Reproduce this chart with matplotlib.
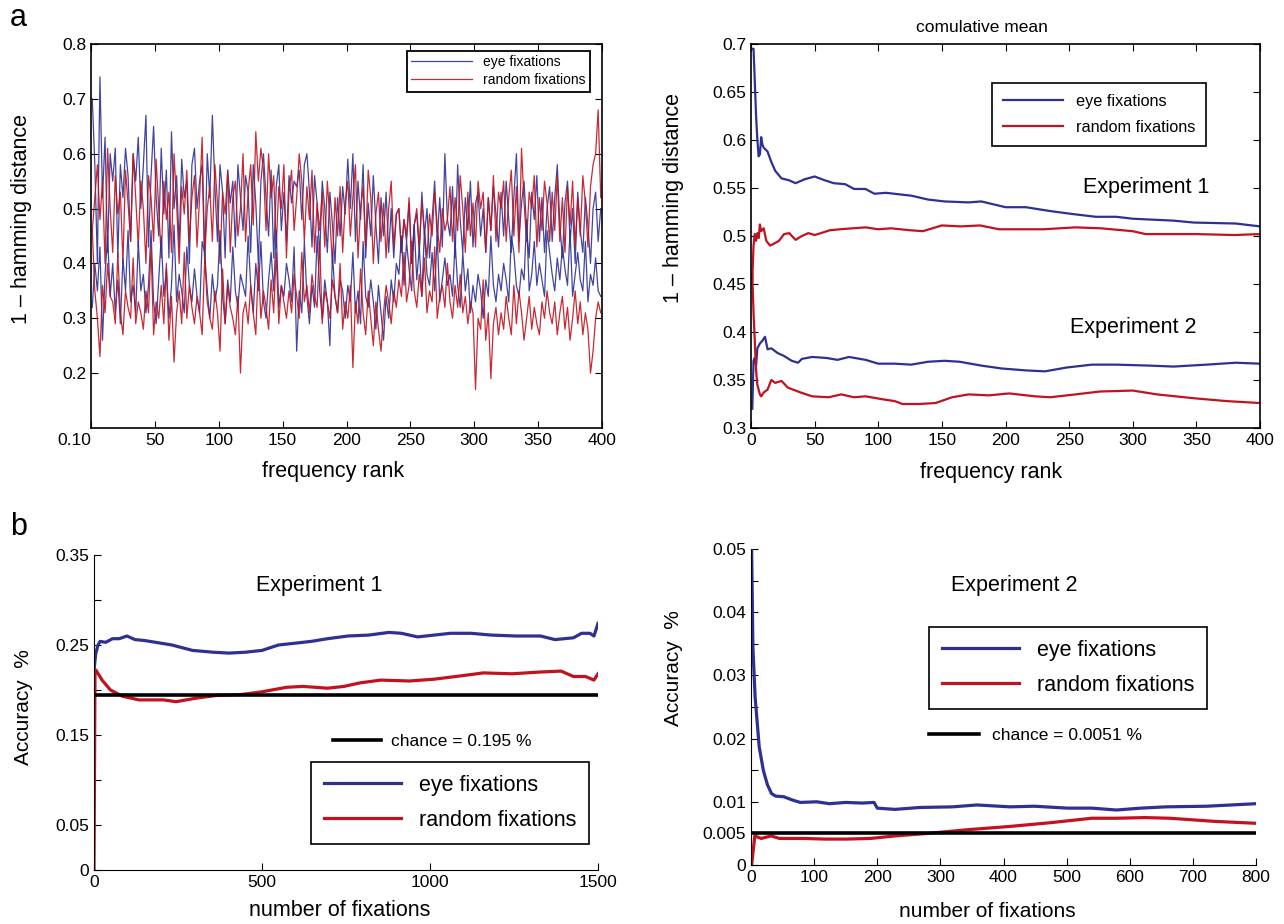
import numpy as np
import matplotlib
matplotlib.use("Agg")
import matplotlib.pyplot as plt

plt.rcParams['font.family'] = ['Liberation Sans', 'DejaVu Sans']

BLUE = '#2e3192'
RED = '#c1121f'

# ---- panel a, left: raw 1 - hamming distance per frequency rank (every 2nd rank, in 1/100)
rank = np.arange(1, 400, 2)
eye_exp1 = [70, 58, 40, 74, 52, 63, 42, 60, 55, 61, 41, 58, 52, 61, 56, 44, 60, 55, 63, 50,
            58, 67, 43, 56, 65, 52, 45, 61, 49, 57, 41, 64, 50, 56, 43, 59, 52, 55, 40, 58,
            61, 50, 55, 58, 40, 60, 52, 67, 54, 44, 58, 53, 41, 57, 51, 55, 43, 58, 52, 46,
            56, 53, 42, 58, 51, 40, 55, 60, 52, 45, 57, 41, 54, 58, 46, 53, 44, 56, 51, 55,
            54, 57, 48, 58, 60, 53, 43, 56, 51, 41, 55, 50, 42, 53, 47, 40, 52, 45, 54, 49,
            59, 50, 60, 44, 55, 48, 58, 41, 51, 45, 56, 47, 40, 52, 45, 53, 42, 50, 41, 49,
            50, 42, 48, 44, 51, 40, 47, 49, 42, 53, 45, 50, 41, 48, 55, 44, 52, 43, 60, 48,
            45, 54, 41, 58, 48, 42, 52, 46, 55, 43, 51, 53, 45, 50, 42, 52, 46, 54, 49, 43,
            53, 45, 55, 48, 42, 52, 60, 44, 51, 55, 46, 41, 53, 48, 56, 44, 52, 42, 50, 54,
            44, 52, 58, 47, 41, 51, 55, 44, 50, 40, 53, 46, 42, 52, 47, 40, 50, 53, 44, 50]
rand_exp1 = [46, 52, 58, 48, 55, 40, 61, 50, 42, 56, 49, 53, 40, 57, 51, 44, 60, 52, 43, 55,
             50, 40, 56, 52, 44, 59, 50, 41, 55, 48, 53, 42, 60, 51, 40, 54, 49, 57, 44, 52,
             56, 43, 52, 63, 41, 50, 54, 44, 58, 51, 40, 53, 49, 57, 42, 52, 55, 45, 50, 60,
             44, 53, 58, 47, 64, 55, 61, 57, 46, 60, 52, 56, 43, 54, 50, 58, 41, 53, 57, 46,
             52, 60, 55, 44, 54, 48, 57, 42, 51, 46, 53, 43, 55, 48, 40, 52, 45, 54, 42, 51,
             55, 45, 52, 58, 41, 50, 54, 43, 57, 52, 40, 49, 53, 44, 51, 41, 50, 55, 43, 49,
             50, 42, 48, 45, 52, 40, 47, 50, 43, 51, 46, 41, 49, 45, 53, 47, 42, 50, 46, 48,
             54, 44, 52, 46, 56, 50, 42, 53, 45, 51, 43, 55, 50, 53, 42, 52, 46, 56, 44, 53,
             50, 55, 44, 52, 57, 45, 54, 42, 61, 51, 44, 53, 50, 56, 43, 52, 46, 55, 51, 44,
             53, 46, 56, 44, 52, 42, 54, 47, 55, 43, 52, 45, 56, 51, 43, 54, 58, 60, 68, 52]
eye_exp2 = [32, 40, 35, 43, 26, 38, 45, 34, 40, 31, 37, 29, 41, 35, 46, 33, 36, 31, 44, 35,
            38, 31, 36, 46, 33, 29, 37, 45, 34, 39, 30, 36, 47, 33, 38, 35, 31, 43, 36, 33,
            39, 34, 31, 44, 42, 35, 30, 38, 33, 36, 46, 34, 29, 37, 33, 43, 35, 32, 38, 36,
            34, 45, 36, 31, 40, 35, 44, 33, 30, 37, 42, 35, 46, 32, 36, 34, 40, 37, 33, 43,
            24, 35, 31, 44, 34, 29, 36, 32, 45, 35, 30, 37, 33, 25, 42, 34, 31, 37, 35, 30,
            36, 33, 42, 31, 35, 29, 44, 34, 32, 37, 33, 28, 36, 31, 26, 34, 30, 37, 33, 40,
            38, 45, 36, 44, 39, 35, 47, 37, 43, 34, 46, 38, 36, 42, 35, 45, 33, 37, 41, 36,
            38, 34, 44, 36, 32, 42, 35, 39, 31, 36, 33, 38, 35, 30, 37, 34, 45, 36, 33, 38,
            35, 40, 37, 33, 45, 42, 36, 34, 39, 37, 48, 35, 38, 44, 36, 40, 37, 34, 46, 42,
            38, 35, 41, 37, 43, 39, 36, 46, 34, 38, 42, 37, 35, 44, 33, 38, 36, 41, 35, 34]
rand_exp2 = [46, 35, 30, 23, 36, 31, 40, 34, 33, 29, 42, 31, 27, 35, 32, 30, 41, 29, 33, 31,
             28, 35, 31, 43, 27, 33, 30, 36, 29, 40, 26, 34, 22, 31, 35, 29, 42, 30, 36, 32,
             29, 34, 31, 27, 41, 33, 30, 28, 35, 31, 24, 39, 29, 36, 32, 30, 27, 34, 20, 31,
             33, 29, 36, 31, 27, 40, 30, 35, 32, 28, 37, 31, 42, 29, 36, 33, 30, 35, 31, 38,
             34, 30, 42, 33, 36, 31, 38, 34, 32, 44, 29, 35, 33, 30, 37, 34, 31, 40, 28, 33,
             30, 36, 21, 33, 29, 39, 31, 27, 35, 30, 25, 33, 28, 24, 31, 36, 33, 29, 35, 32,
             37, 34, 42, 33, 36, 44, 35, 32, 38, 34, 41, 31, 35, 33, 43, 30, 34, 36, 32, 40,
             33, 30, 36, 32, 38, 31, 34, 29, 33, 31, 17, 30, 28, 37, 26, 31, 19, 29, 32, 27,
             31, 28, 34, 30, 27, 36, 29, 35, 31, 26, 30, 34, 28, 32, 29, 27, 33, 30, 35, 31,
             29, 33, 27, 31, 34, 28, 32, 26, 30, 35, 29, 33, 27, 31, 28, 20, 24, 30, 33, 31]

# ---- panel a, right: cumulative mean
cm_eye1_x = [1, 2, 3, 4, 5, 6, 7, 8, 9, 10, 13, 16, 19, 24, 30, 35, 42, 50, 58, 65, 74, 81, 90,
             97, 106, 126, 139, 152, 171, 181, 200, 216, 235, 252, 271, 287, 300, 332, 348, 381, 400]
cm_eye1 = [0.695, 0.695, 0.66, 0.625, 0.60, 0.583, 0.585, 0.603, 0.595, 0.592, 0.588, 0.577, 0.568,
           0.560, 0.558, 0.555, 0.559, 0.562, 0.558, 0.555, 0.554, 0.549, 0.549, 0.544, 0.545, 0.542,
           0.538, 0.536, 0.535, 0.536, 0.530, 0.530, 0.526, 0.523, 0.520, 0.520, 0.518, 0.516, 0.514,
           0.513, 0.510]
cm_rand1_x = [1, 2, 3, 4, 5, 6, 7, 8, 10, 12, 15, 18, 22, 26, 30, 35, 40, 45, 50, 55, 62, 70, 80,
              90, 100, 110, 125, 135, 150, 165, 180, 195, 210, 230, 255, 275, 300, 310, 350, 380, 400]
cm_rand1 = [0.455, 0.49, 0.502, 0.495, 0.503, 0.498, 0.512, 0.505, 0.508, 0.495, 0.490, 0.492, 0.495,
            0.502, 0.503, 0.496, 0.500, 0.503, 0.501, 0.503, 0.506, 0.507, 0.508, 0.509, 0.507, 0.508,
            0.506, 0.505, 0.511, 0.510, 0.511, 0.507, 0.507, 0.507, 0.509, 0.508, 0.505, 0.502, 0.502,
            0.501, 0.502]
cm_eye2_x = [1, 2, 3, 4, 5, 7, 9, 11, 13, 16, 21, 26, 32, 37, 40, 48, 59, 68, 77, 90, 100, 113, 126,
             139, 152, 164, 181, 197, 216, 231, 248, 268, 287, 313, 332, 358, 381, 400]
cm_eye2 = [0.32, 0.37, 0.373, 0.365, 0.383, 0.388, 0.391, 0.395, 0.382, 0.383, 0.378, 0.375, 0.370,
           0.368, 0.372, 0.374, 0.373, 0.371, 0.374, 0.371, 0.367, 0.367, 0.366, 0.369, 0.370, 0.369,
           0.365, 0.362, 0.360, 0.359, 0.363, 0.366, 0.366, 0.365, 0.364, 0.366, 0.368, 0.367]
cm_rand2_x = [1, 2, 3, 4, 5, 7, 8, 10, 13, 16, 19, 24, 29, 39, 48, 61, 71, 81, 90, 103, 113, 119,
              132, 145, 158, 171, 187, 203, 223, 235, 255, 274, 300, 319, 348, 374, 400]
cm_rand2 = [0.46, 0.42, 0.39, 0.36, 0.345, 0.335, 0.333, 0.337, 0.340, 0.350, 0.347, 0.349, 0.342,
            0.337, 0.333, 0.332, 0.335, 0.332, 0.333, 0.330, 0.328, 0.325, 0.325, 0.326, 0.332, 0.335,
            0.334, 0.336, 0.333, 0.332, 0.335, 0.338, 0.339, 0.335, 0.331, 0.328, 0.326]

# ---- panel b, left: experiment 1 accuracy
acc1_eye_x = [0, 5, 12, 18, 35, 55, 75, 98, 122, 150, 183, 232, 293, 354, 402, 451, 500, 549, 598,
              646, 695, 756, 817, 878, 915, 963, 1012, 1061, 1122, 1183, 1256, 1329, 1372, 1427,
              1451, 1476, 1488, 1500]
acc1_eye = [0.222, 0.240, 0.250, 0.254, 0.253, 0.257, 0.257, 0.260, 0.256, 0.255, 0.253, 0.250,
            0.244, 0.242, 0.241, 0.242, 0.244, 0.250, 0.252, 0.254, 0.257, 0.260, 0.261, 0.264,
            0.263, 0.259, 0.261, 0.263, 0.263, 0.261, 0.260, 0.260, 0.256, 0.258, 0.263, 0.263,
            0.260, 0.274]
acc1_rand_x = [0, 3, 6, 24, 49, 85, 134, 207, 244, 305, 366, 439, 500, 573, 622, 695, 744, 793,
               854, 939, 1012, 1098, 1159, 1244, 1329, 1390, 1427, 1463, 1488, 1500]
acc1_rand = [0, 0.222, 0.222, 0.211, 0.200, 0.193, 0.189, 0.189, 0.187, 0.191, 0.194, 0.195, 0.198,
             0.203, 0.204, 0.202, 0.204, 0.208, 0.211, 0.210, 0.212, 0.216, 0.219, 0.218, 0.220,
             0.221, 0.215, 0.215, 0.211, 0.218]
chance1 = 0.195

# ---- panel b, right: experiment 2 accuracy
acc2_eye_x = [1, 3, 6.5, 13, 19.5, 26, 32.5, 39, 52, 65, 78, 104, 124, 150, 176, 195, 200, 228, 267,
              319, 358, 410, 449, 501, 540, 579, 618, 657, 722, 800]
acc2_eye = [0.050, 0.0345, 0.0266, 0.0187, 0.0150, 0.0127, 0.0113, 0.0109, 0.0108, 0.0103, 0.0099,
            0.0100, 0.0097, 0.0099, 0.0098, 0.0099, 0.0090, 0.0088, 0.0091, 0.0092, 0.0095, 0.0092,
            0.0093, 0.0090, 0.0090, 0.0087, 0.0090, 0.0092, 0.0093, 0.0097]
acc2_rand_x = [1, 6, 16, 32, 45, 85, 117, 150, 189, 228, 280, 345, 410, 475, 540, 579, 624, 663,
               735, 800]
acc2_rand = [0, 0.0046, 0.0042, 0.0046, 0.0042, 0.0042, 0.0041, 0.0041, 0.0042, 0.0046, 0.0050,
             0.0056, 0.0061, 0.0067, 0.0074, 0.0074, 0.0075, 0.0074, 0.0069, 0.0066]
chance2 = 0.0051

W, H = 1284, 924
fig = plt.figure(figsize=(W / 100, H / 100), dpi=100)


def box(l, t, r, b):
    return [l / W, 1 - b / H, (r - l) / W, (b - t) / H]


def figpt(x, y):
    return (x / W, 1 - y / H)


TICK = 12.5
LAB = 15.5

# ================= a, left
ax1 = fig.add_axes(box(91, 44, 602, 428))
ax1.plot(rank, np.array(eye_exp1) / 100, color=BLUE, lw=0.9, alpha=0.9, label='eye fixations')
ax1.plot(rank, np.array(rand_exp1) / 100, color=RED, lw=0.9, alpha=0.9, label='random fixations')
ax1.plot(rank, np.array(eye_exp2) / 100, color=BLUE, lw=0.9, alpha=0.9)
ax1.plot(rank, np.array(rand_exp2) / 100, color=RED, lw=0.9, alpha=0.9)
ax1.set_xlim(0, 400)
ax1.set_ylim(0.1, 0.8)
ax1.set_xticks(range(0, 401, 50))
ax1.set_xticklabels(['0.10'] + [str(v) for v in range(50, 401, 50)])
ax1.get_xticklabels()[0].set_horizontalalignment('right')
ax1.set_yticks([0.2, 0.3, 0.4, 0.5, 0.6, 0.7, 0.8])
ax1.set_yticklabels(['0.2', '0.3', '0.4', '0.5', '0.6', '0.7', '0.8'])
ax1.tick_params(direction='in', top=True, right=True, labelsize=TICK, length=5)
for s in ax1.spines.values():
    s.set_linewidth(1.2)
ax1.set_xlabel('frequency rank', fontsize=LAB)
ax1.set_ylabel('1 \u2013 hamming distance', fontsize=LAB)
ax1.xaxis.set_label_coords(0.474, -0.086)
ax1.yaxis.set_label_coords(-0.115, 0.545)
leg = ax1.legend(loc='upper left', bbox_to_anchor=figpt(407, 51), bbox_transform=fig.transFigure,
                 fontsize=10, handlelength=4.4, fancybox=False, framealpha=1, edgecolor='black',
                 borderpad=0.3, labelspacing=0.3, borderaxespad=0)
leg.get_frame().set_linewidth(1.3)
fig.text(18 / W, 1 - 18 / H, 'a', fontsize=22, ha='center', va='center')

# ================= a, right
ax2 = fig.add_axes(box(751, 44, 1260, 428))
ax2.plot(cm_eye1_x, cm_eye1, color=BLUE, lw=1.6, label='eye fixations')
ax2.plot(cm_rand1_x, cm_rand1, color=RED, lw=1.6, label='random fixations')
ax2.plot(cm_eye2_x, cm_eye2, color=BLUE, lw=1.6)
ax2.plot(cm_rand2_x, cm_rand2, color=RED, lw=1.6)
ax2.set_xlim(0, 400)
ax2.set_ylim(0.3, 0.7)
ax2.set_xticks(range(0, 401, 50))
yt2 = [0.3, 0.35, 0.4, 0.45, 0.5, 0.55, 0.6, 0.65, 0.7]
ax2.set_yticks(yt2)
ax2.set_yticklabels(['%g' % v for v in yt2])
ax2.tick_params(direction='in', top=True, right=True, labelsize=TICK, length=5)
for s in ax2.spines.values():
    s.set_linewidth(1.2)
ax2.set_xlabel('frequency rank', fontsize=LAB)
ax2.set_ylabel('1 \u2013 hamming distance', fontsize=LAB)
ax2.xaxis.set_label_coords(0.472, -0.088)
ax2.yaxis.set_label_coords(-0.132, 0.60)
fig.text(982 / W, 1 - 28 / H, 'comulative mean', fontsize=12.5, ha='center', va='center')
leg = ax2.legend(loc='upper left', bbox_to_anchor=figpt(992, 83), bbox_transform=fig.transFigure,
                 fontsize=11.7, handlelength=3.7, fancybox=False, framealpha=1, edgecolor='black',
                 borderpad=0.65, labelspacing=0.7, borderaxespad=0)
leg.get_frame().set_linewidth(1.2)
fig.text(1146 / W, 1 - 188 / H, 'Experiment 1', fontsize=15.5, ha='center', va='center')
fig.text(1133 / W, 1 - 328 / H, 'Experiment 2', fontsize=15.5, ha='center', va='center')

# ================= b, left
ax3 = fig.add_axes(box(94, 555, 598, 870))
l1, = ax3.plot(acc1_eye_x, acc1_eye, color=BLUE, lw=2.3, label='eye fixations')
l2, = ax3.plot(acc1_rand_x, acc1_rand, color=RED, lw=2.3, label='random fixations')
lc = ax3.axhline(chance1, color='black', lw=2.6, label='chance = 0.195 %')
ax3.set_xlim(0, 1500)
ax3.set_ylim(0, 0.35)
ax3.set_xticks([0, 500, 1000, 1500])
yt3 = [0, 0.05, 0.1, 0.15, 0.2, 0.25, 0.3, 0.35]
ax3.set_yticks(yt3)
ax3.set_yticklabels(['0', '0.05', '', '0.15', '', '0.25', '', '0.35'])
for s in ['top', 'right']:
    ax3.spines[s].set_visible(False)
ax3.tick_params(direction='in', labelsize=TICK, length=5)
ax3.set_xlabel('number of fixations', fontsize=LAB)
ax3.set_ylabel('Accuracy  %', fontsize=15)
ax3.xaxis.set_label_coords(0.487, -0.095)
ax3.yaxis.set_label_coords(-0.121, 0.517)
leg = ax3.legend(handles=[l1, l2], loc='upper left', bbox_to_anchor=figpt(311, 762),
                 bbox_transform=fig.transFigure, fontsize=15.5, handlelength=3.6, fancybox=False,
                 framealpha=1, edgecolor='black', borderpad=0.6, labelspacing=0.65, borderaxespad=0)
leg.get_frame().set_linewidth(1.2)
ax3.add_artist(leg)
ax3.legend(handles=[lc], loc='center left', bbox_to_anchor=figpt(333, 741),
           bbox_transform=fig.transFigure, frameon=False, borderpad=0, borderaxespad=0,
           handlelength=2.75, handletextpad=0.6, fontsize=12.5)
fig.text(19 / W, 1 - 527 / H, 'b', fontsize=22, ha='center', va='center')
fig.text(319 / W, 1 - 586 / H, 'Experiment 1', fontsize=15.5, ha='center', va='center')

# ================= b, right
ax4 = fig.add_axes(box(751, 549, 1256, 865))
l1, = ax4.plot(acc2_eye_x, acc2_eye, color=BLUE, lw=2.3, label='eye fixations')
l2, = ax4.plot(acc2_rand_x, acc2_rand, color=RED, lw=2.3, label='random fixations')
lc = ax4.axhline(chance2, color='black', lw=2.6, label='chance = 0.0051 %')
ax4.set_xlim(0, 800)
ax4.set_ylim(0, 0.05)
ax4.set_xticks(range(0, 801, 100))
yt4 = [0, 0.005, 0.01, 0.015, 0.02, 0.025, 0.03, 0.035, 0.04, 0.045, 0.05]
ax4.set_yticks(yt4)
ax4.set_yticklabels(['0', '0.005', '0.01', '', '0.02', '', '0.03', '', '0.04', '', '0.05'])
for s in ['top', 'right']:
    ax4.spines[s].set_visible(False)
ax4.tick_params(direction='in', labelsize=TICK, length=5)
ax4.set_xlabel('number of fixations', fontsize=15)
ax4.set_ylabel('Accuracy  %', fontsize=15)
ax4.xaxis.set_label_coords(0.467, -0.117)
ax4.yaxis.set_label_coords(-0.135, 0.623)
leg = ax4.legend(handles=[l1, l2], loc='upper left', bbox_to_anchor=figpt(929, 627),
                 bbox_transform=fig.transFigure, fontsize=15.5, handlelength=3.6, fancybox=False,
                 framealpha=1, edgecolor='black', borderpad=0.6, labelspacing=0.65, borderaxespad=0)
leg.get_frame().set_linewidth(1.2)
ax4.add_artist(leg)
ax4.legend(handles=[lc], loc='center left', bbox_to_anchor=figpt(929, 735),
           bbox_transform=fig.transFigure, frameon=False, borderpad=0, borderaxespad=0,
           handlelength=2.9, handletextpad=0.75, fontsize=12.5)
fig.text(1014 / W, 1 - 586 / H, 'Experiment 2', fontsize=15.5, ha='center', va='center')

fig.savefig('out.png', dpi=100)
